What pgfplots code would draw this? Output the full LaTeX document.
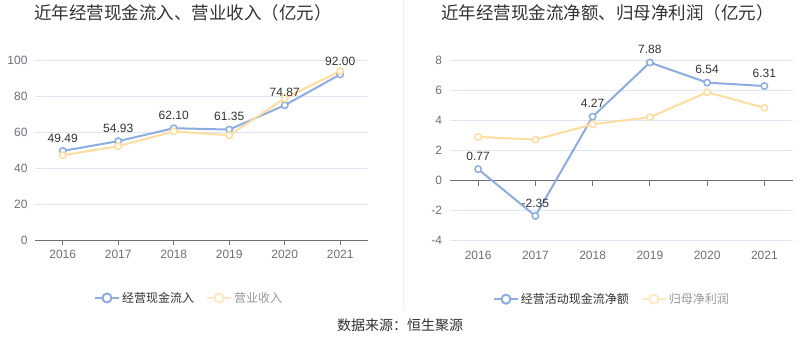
\documentclass[border=0pt]{standalone}
\usepackage{pgfplots}
\pgfplotsset{compat=1.18}
\usepackage{fontspec}
\setmainfont{Liberation Sans}
\newfontfamily\cjk{Noto Sans CJK SC}
\definecolor{blueline}{RGB}{141,172,224}
\definecolor{yelline}{RGB}{253,222,160}
\definecolor{yellegend}{RGB}{254,233,195}
\definecolor{gridc}{RGB}{224,230,241}
\definecolor{axisc}{RGB}{110,112,121}
\definecolor{titlec}{RGB}{51,51,51}
\definecolor{labelc}{RGB}{51,51,51}
\pgfplotsset{
  common/.style={
    scale only axis, anchor=south west, clip=false,
    axis line style={draw=none}, major tick length=0pt,
    ymajorgrids, grid style={color=gridc, line width=0.8pt},
    xmin=2015.5, xmax=2021.5, xtick={2016,...,2021},
    tick label style={font=\fontsize{12}{14}\selectfont, color=axisc},
    /pgf/number format/assume math mode=true,
    /pgf/number format/1000 sep={},
    yticklabel style={xshift=-4pt},
    xticklabel style={yshift=-6.5pt},
    legend style={draw=none, fill=none, legend columns=2, anchor=center,
      font=\cjk\fontsize{12}{14}\selectfont,
      /tikz/every even column/.append style={column sep=10pt},
      /tikz/every odd column/.append style={column sep=0pt}},
  },
  bluestyle/.style={color=blueline, line width=2pt, mark=*, mark size=3.2pt,
    mark options={fill=white, draw=blueline, line width=1.5pt}},
  yelstyle/.style={color=yelline, line width=2pt, mark=*, mark size=3.2pt,
    mark options={fill=white, draw=yelline, line width=1.5pt}},
  labstyle/.style={draw=none, mark=none, nodes near coords,
    point meta=explicit symbolic,
    nodes near coords style={font=\fontsize{12}{14}\selectfont, color=labelc,
      anchor=south, inner sep=1pt, yshift=7.5pt}},
  legblue/.style={legend image code/.code={
    \draw[blueline, line width=2pt] (0pt,0pt) -- (24pt,0pt);
    \draw[blueline, fill=white, line width=2pt] (12pt,0pt) circle (4.5pt);}},
  legyel/.style={legend image code/.code={
    \draw[yellegend, line width=2pt] (0pt,0pt) -- (24pt,0pt);
    \draw[yellegend, fill=white, line width=2pt] (12pt,0pt) circle (4.5pt);}},
}
\begin{document}
\begin{tikzpicture}[x=1pt,y=1pt]
\path[use as bounding box, fill=white] (0,0) rectangle (800,-358);
\draw[color=gray!12, line width=0.8pt] (403,0) -- (403,-310);
\node[anchor=west, font=\cjk\fontsize{17.5}{20}\selectfont, color=titlec, inner sep=0pt] at (34,-13) {近年经营现金流入、营业收入（亿元）};
\node[anchor=west, font=\cjk\fontsize{17.5}{20}\selectfont, color=titlec, inner sep=0pt] at (441,-13) {近年经营现金流净额、归母净利润（亿元）};
\node[font=\cjk\fontsize{14}{16}\selectfont, color=titlec] at (400,-325) {数据来源：恒生聚源};

\begin{axis}[common, at={(35pt,-240pt)}, width=333pt, height=180pt,
  ymin=0, ymax=100, ytick={0,20,...,100},
  legend style={at={(0.4625,-0.322)}}]
\draw[axisc, line width=1pt] (axis cs:2015.5,0) -- (axis cs:2021.5,0);
\pgfplotsinvokeforeach{2016,2017,2018,2019,2020,2021}{
  \draw[axisc, line width=1pt] (axis cs:#1,0) -- ++(0pt,-5pt);}
\addplot[bluestyle, forget plot] coordinates {
 (2016,49.49) (2017,54.93) (2018,62.10) (2019,61.35) (2020,74.87) (2021,92.00)};
\addplot[yelstyle, forget plot] coordinates {
 (2016,47.1) (2017,52.1) (2018,60.3) (2019,58.2) (2020,78.7) (2021,93.9)};
\addplot[labstyle, forget plot] coordinates {
 (2016,49.49) [49.49] (2017,54.93) [54.93] (2018,62.10) [62.10]
 (2019,61.35) [61.35] (2020,74.87) [74.87] (2021,92.00) [92.00]};
\addlegendimage{legblue}
\addlegendentry[text=titlec]{经营现金流入}
\addlegendimage{legyel}
\addlegendentry[text=gray!80]{营业收入}
\end{axis}

\begin{axis}[common, at={(449.5pt,-240.7pt)}, width=343.5pt, height=180pt,
  ymin=-4, ymax=8, ytick={-4,-2,...,8},
  legend style={at={(0.473,-0.325)}}]
\draw[axisc, line width=1pt] (axis cs:2015.5,0) -- (axis cs:2021.5,0);
\pgfplotsinvokeforeach{2016,2017,2018,2019,2020,2021}{
  \draw[axisc, line width=1pt] (axis cs:#1,0) -- ++(0pt,-5pt);}
\addplot[bluestyle, forget plot] coordinates {
 (2016,0.77) (2017,-2.35) (2018,4.27) (2019,7.88) (2020,6.54) (2021,6.31)};
\addplot[yelstyle, forget plot] coordinates {
 (2016,2.92) (2017,2.74) (2018,3.76) (2019,4.23) (2020,5.90) (2021,4.86)};
\addplot[labstyle, forget plot] coordinates {
 (2016,0.77) [0.77] (2017,-2.35) [-2.35] (2018,4.27) [4.27]
 (2019,7.88) [7.88] (2020,6.54) [6.54] (2021,6.31) [6.31]};
\addlegendimage{legblue}
\addlegendentry[text=titlec]{经营活动现金流净额}
\addlegendimage{legyel}
\addlegendentry[text=gray!80]{归母净利润}
\end{axis}
\end{tikzpicture}
\end{document}
